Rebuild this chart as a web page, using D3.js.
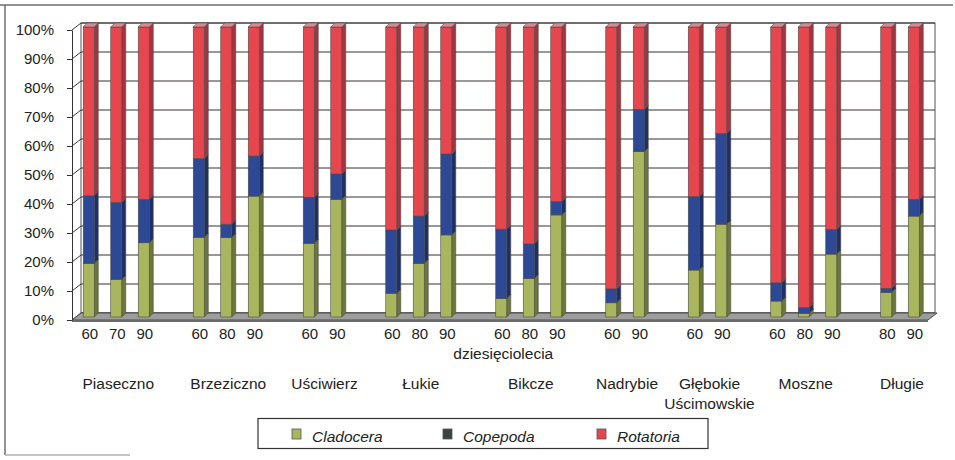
<!DOCTYPE html>
<html>
<head>
<meta charset="utf-8">
<script src="https://cdn.jsdelivr.net/npm/d3@7"></script>
<style>
  html, body { margin: 0; padding: 0; background: #fff; }
  svg { display: block; font-family: Arial, "Liberation Sans", sans-serif; }
</style>
</head>
<body>
<svg id="chart" width="955" height="460"></svg>
<script>
// Lakes and the decades sampled in each
const lakes = ["Piaseczno", "Brzeziczno", "Uściwierz", "Łukie", "Bikcze", "Nadrybie", "Głębokie Uścimowskie", "Moszne", "Długie"];
const lakeLines = [["Piaseczno"], ["Brzeziczno"], ["Uściwierz"], ["Łukie"], ["Bikcze"], ["Nadrybie"], ["Głębokie", "Uścimowskie"], ["Moszne"], ["Długie"]];
const decades = [
  ["60", "70", "90"],
  ["60", "80", "90"],
  ["60", "90"],
  ["60", "80", "90"],
  ["60", "80", "90"],
  ["60", "90"],
  ["60", "90"],
  ["60", "80", "90"],
  ["80", "90"]
];

// Share of each group (%) per lake and decade, in the same order as above
const cladocera = [18.5, 13.0, 25.6, 27.5, 27.4, 41.7, 25.4, 40.6, 8.2, 18.5, 28.3, 6.4, 13.3, 35.2, 4.9, 57.0, 16.2, 32.0, 5.5, 1.3, 21.7, 8.5, 34.8];
const copepoda  = [23.3, 26.5, 15.0, 27.1, 4.6, 13.8, 15.9, 8.7, 21.8, 16.3, 27.9, 23.9, 11.9, 4.6, 4.8, 14.6, 25.3, 31.3, 6.3, 2.0, 8.5, 1.4, 5.8];
const rotatoria = [58.2, 60.5, 59.4, 45.4, 68.0, 44.5, 58.7, 50.7, 70.0, 65.2, 43.8, 69.7, 74.8, 60.2, 90.3, 28.4, 58.5, 36.7, 88.2, 96.7, 69.8, 90.1, 59.4];

const seriesNames = ["Cladocera", "Copepoda", "Rotatoria"];
const yTicks = [0, 10, 20, 30, 40, 50, 60, 70, 80, 90, 100];
const axisTitle = "dziesięciolecia";

// Faces of each series: front, side, top
const palette = {
  Cladocera: { front: "#a9b65e", side: "#6c7838", top: "#c5cf8a", legend: "#a9b65e" },
  Copepoda:  { front: "#2d4995", side: "#1c2f66", top: "#5a6fb0", legend: "#3d4244" },
  Rotatoria: { front: "#e6474f", side: "#a33540", top: "#d98a8e", legend: "#e6474f" }
};

// Flat rows, one per bar, plus empty slots between lakes
const rows = [];
const slots = [];
let k = 0;
lakes.forEach((lake, li) => {
  decades[li].forEach(dec => {
    const key = lake + "|" + dec;
    rows.push({ key, lake, li, dec, Cladocera: cladocera[k], Copepoda: copepoda[k], Rotatoria: rotatoria[k] });
    slots.push(key);
    k++;
  });
  if (li < lakes.length - 1) slots.push("gap" + li);
});

const svg = d3.select("#chart");

// Page frame
svg.append("line").attr("x1", 0).attr("x2", 953).attr("y1", 5).attr("y2", 5).attr("stroke", "#6e6e6e").attr("stroke-width", 1.5);
svg.append("line").attr("x1", 5).attr("x2", 5).attr("y1", 5).attr("y2", 455).attr("stroke", "#6e6e6e").attr("stroke-width", 1.5);
svg.append("line").attr("x1", 5).attr("x2", 130).attr("y1", 455).attr("y2", 455).attr("stroke", "#b0b0b0").attr("stroke-width", 1.5);

// Scales
const x = d3.scaleBand().domain(slots).range([75, 927.5]).paddingInner(0.6).paddingOuter(0.3);
const yFront = d3.scaleLinear().domain([0, 100]).range([320, 30]);   // front axis plane
const depth = { dx: 9, dy: -7 };                                     // front plane -> back wall
const yBar = d3.scaleLinear().domain([0, 1]).range([317, 27]);       // bar front faces
const barDepth = { dx: 4, dy: -4 };

const wallLeft = 72 + depth.dx, wallRight = 935;

// Back wall
svg.append("rect")
  .attr("x", wallLeft).attr("y", yFront(100) + depth.dy)
  .attr("width", wallRight - wallLeft).attr("height", yFront(0) - yFront(100))
  .attr("fill", "#fff").attr("stroke", "#555").attr("stroke-width", 1);

// Gridlines on the back wall and the slanted links on the side wall
const grid = svg.append("g");
yTicks.forEach(t => {
  const yb = yFront(t) + depth.dy;
  grid.append("line").attr("x1", wallLeft).attr("x2", wallRight).attr("y1", yb).attr("y2", yb)
    .attr("stroke", "#3a3030").attr("stroke-width", 1);
  grid.append("line").attr("x1", 72).attr("x2", wallLeft).attr("y1", yFront(t)).attr("y2", yb)
    .attr("stroke", "#3a3a3a").attr("stroke-width", 1);
});

// Floor slab
const fy = yFront(0), by = yFront(0) + depth.dy;
svg.append("polygon")
  .attr("points", [[72, fy], [wallLeft, by], [wallRight + 2, by], [wallRight + 2 - depth.dx, fy]].map(p => p.join(",")).join(" "))
  .attr("fill", "#9d9d9d").attr("stroke", "#4d4d4d").attr("stroke-width", 1);
svg.append("rect").attr("x", 72).attr("y", fy).attr("width", wallRight + 2 - depth.dx - 72).attr("height", 2)
  .attr("fill", "#6a6a6a");

// Front value axis
const yAxis = d3.axisLeft(yFront).tickValues(yTicks).tickFormat(d => d + "%").tickSize(5).tickSizeOuter(0).tickPadding(13);
const ax = svg.append("g").attr("transform", "translate(72,0)").call(yAxis);
ax.select(".domain").attr("stroke", "#333");
ax.selectAll(".tick line").attr("stroke", "#333");
ax.selectAll(".tick text").attr("font-size", 15).attr("fill", "#222")
  .attr("font-family", "Arial, 'Liberation Sans', sans-serif");

// Stacked 3D columns (100% stacks)
const stack = d3.stack().keys(seriesNames).offset(d3.stackOffsetExpand);
const layers = stack(rows);
const w = x.bandwidth();
const bars = svg.append("g");

rows.forEach((row, i) => {
  const g = bars.append("g");
  const x0 = x(row.key);
  layers.forEach(layer => {
    const seg = layer[i];
    const c = palette[layer.key];
    const yTop = yBar(seg[1]), yBot = yBar(seg[0]);
    if (yBot - yTop <= 0) return;
    // side face
    g.append("polygon")
      .attr("points", [[x0 + w, yBot], [x0 + w + barDepth.dx, yBot + barDepth.dy], [x0 + w + barDepth.dx, yTop + barDepth.dy], [x0 + w, yTop]].map(p => p.join(",")).join(" "))
      .attr("fill", c.side).attr("stroke", "#4a4a4a").attr("stroke-width", 0.6);
    // front face
    g.append("rect").attr("x", x0).attr("y", yTop).attr("width", w).attr("height", yBot - yTop)
      .attr("fill", c.front).attr("stroke", "#4a4a4a").attr("stroke-width", 0.6);
    // top cap
    if (seg[1] >= 0.9999) {
      g.append("polygon")
        .attr("points", [[x0, yTop], [x0 + barDepth.dx, yTop + barDepth.dy], [x0 + w + barDepth.dx, yTop + barDepth.dy], [x0 + w, yTop]].map(p => p.join(",")).join(" "))
        .attr("fill", c.top).attr("stroke", "#4a4a4a").attr("stroke-width", 0.6);
    }
  });
});

// Decade labels under each column
svg.append("g").selectAll("text").data(rows).join("text")
  .attr("x", d => x(d.key) + w / 2 + 1)
  .attr("y", 338.5)
  .attr("text-anchor", "middle").attr("font-size", 15).attr("fill", "#222")
  .text(d => d.dec);

// Axis title
svg.append("text").attr("x", (x.range()[0] + x.range()[1]) / 2 + 2).attr("y", 358.5)
  .attr("text-anchor", "middle").attr("font-size", 15.5).attr("fill", "#222").text(axisTitle);

// Lake names centred under their groups
lakes.forEach((lake, li) => {
  const keys = rows.filter(r => r.li === li).map(r => r.key);
  const cx = (x(keys[0]) + x(keys[keys.length - 1]) + w) / 2 + 2;
  const t = svg.append("text").attr("x", cx).attr("y", 389)
    .attr("text-anchor", "middle").attr("font-size", 15.5).attr("fill", "#222");
  lakeLines[li].forEach((line, j) => {
    t.append("tspan").attr("x", cx).attr("dy", j === 0 ? 0 : 19.5).text(line);
  });
});

// Legend
const legend = svg.append("g");
legend.append("rect").attr("x", 258).attr("y", 418.5).attr("width", 450).attr("height", 30)
  .attr("fill", "#fff").attr("stroke", "#333").attr("stroke-width", 1.2);
const legendX = [292, 443, 597];
seriesNames.forEach((name, i) => {
  legend.append("rect").attr("x", legendX[i]).attr("y", 429).attr("width", 9).attr("height", 10)
    .attr("fill", palette[name].legend).attr("stroke", "#555").attr("stroke-width", 0.8);
  legend.append("text").attr("x", legendX[i] + 20).attr("y", 442)
    .attr("font-size", 15.5).attr("font-style", "italic").attr("fill", "#222").text(name);
});
</script>
</body>
</html>
